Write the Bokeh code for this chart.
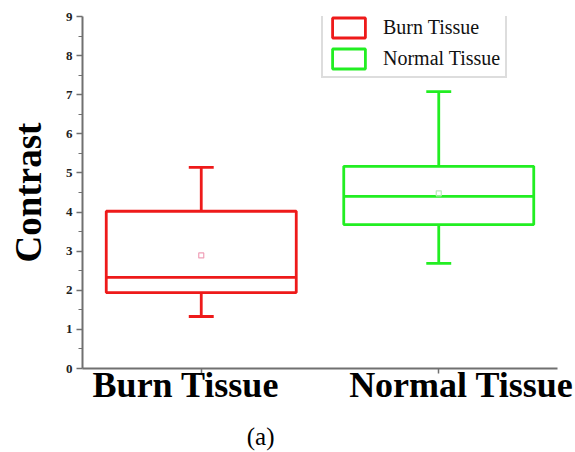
from bokeh.plotting import figure
from bokeh.models import Range1d, FixedTicker, Legend, LegendItem, LinearAxis
from bokeh.embed import file_html
from bokeh.resources import INLINE

# Data
categories = ["Burn Tissue", "Normal Tissue"]
positions = [1, 2]
q1 = [1.94, 3.68]
median = [2.33, 4.40]
q3 = [4.02, 5.17]
whisker_low = [1.33, 2.69]
whisker_high = [5.14, 7.08]
means = [2.89, 4.48]
colors = ["#ee1a1a", "#22ee22"]
mean_colors = ["#f0a0b8", "#b8ecb8"]
y_ticks = [0, 1, 2, 3, 4, 5, 6, 7, 8, 9]
caption = "(a)"

# layout constants (label offsets in x units relative to their tick)
label_shift = [-0.065, 0.095]
caption_pos = 1.25

box_w = 0.8
cap_w = 0.105
serif = "Liberation Serif"

p = figure(width=575, height=452, output_backend="svg", toolbar_location=None,
           x_range=Range1d(0.5, 2.5), y_range=Range1d(0, 9),
           min_border_left=82, min_border_right=18, min_border_top=16, min_border_bottom=84)
p.outline_line_color = None
p.grid.grid_line_color = None
p.background_fill_color = "white"

renderers = []
for i in range(2):
    x = positions[i]
    c = colors[i]
    p.segment(x0=[x, x], y0=[q3[i], q1[i]], x1=[x, x], y1=[whisker_high[i], whisker_low[i]],
              line_color=c, line_width=2.8)
    p.segment(x0=[x - cap_w / 2, x - cap_w / 2], y0=[whisker_high[i], whisker_low[i]],
              x1=[x + cap_w / 2, x + cap_w / 2], y1=[whisker_high[i], whisker_low[i]],
              line_color=c, line_width=2.8)
    r = p.quad(left=[x - box_w / 2], right=[x + box_w / 2], bottom=[q1[i]], top=[q3[i]],
               fill_color="white", fill_alpha=0.0, line_color=c, line_width=2.8)
    renderers.append(r)
    p.segment(x0=[x - box_w / 2], y0=[median[i]], x1=[x + box_w / 2], y1=[median[i]],
              line_color=c, line_width=2.8)
    p.scatter(x=[x], y=[means[i]], marker="square", size=5, fill_color=None,
              line_color=mean_colors[i], line_width=1.2)

# main x axis: line + ticks only
p.xaxis.ticker = FixedTicker(ticks=positions)
p.xaxis.major_label_overrides = {positions[i]: " " for i in range(2)}
p.xaxis.major_label_text_font_size = "1px"
p.xaxis.major_label_standoff = 0
p.xaxis.major_tick_out = 5
p.xaxis.major_tick_in = 0

# category labels axis
label_pos = [positions[i] + label_shift[i] for i in range(2)]
lab_axis = LinearAxis(ticker=FixedTicker(ticks=label_pos),
                      major_label_overrides={label_pos[i]: categories[i] for i in range(2)})
lab_axis.axis_line_color = None
lab_axis.major_tick_line_color = None
lab_axis.minor_tick_line_color = None
lab_axis.major_label_text_font = serif
lab_axis.major_label_text_font_style = "bold"
lab_axis.major_label_text_font_size = "36px"
lab_axis.major_label_text_color = "black"
lab_axis.major_label_standoff = -19
p.add_layout(lab_axis, "below")

p.yaxis.ticker = FixedTicker(ticks=y_ticks, minor_ticks=[v + 0.5 for v in y_ticks[:-1]])
p.yaxis.major_label_text_font = serif
p.yaxis.major_label_text_font_style = "bold"
p.yaxis.major_label_text_font_size = "13px"
p.yaxis.major_label_text_color = "#222222"
p.yaxis.major_label_standoff = 4
p.yaxis.major_tick_out = 6
p.yaxis.major_tick_in = 0
p.yaxis.minor_tick_out = 4
p.yaxis.minor_tick_in = 0
p.yaxis.axis_label = "Contrast"
p.yaxis.axis_label_text_font = serif
p.yaxis.axis_label_text_font_style = "bold"
p.yaxis.axis_label_text_font_size = "37px"
p.yaxis.axis_label_text_color = "black"
p.yaxis.axis_label_standoff = 14

for ax in (p.xaxis[0], p.yaxis[0]):
    ax.axis_line_color = "#707070"
    ax.axis_line_width = 2
    ax.major_tick_line_color = "#707070"
    ax.major_tick_line_width = 1.5
    ax.minor_tick_line_color = "#707070"
p.xaxis[0].minor_tick_line_color = None

# caption as an extra bottom axis carrying one label
cap_axis = LinearAxis(ticker=FixedTicker(ticks=[caption_pos]),
                      major_label_overrides={caption_pos: caption})
cap_axis.axis_line_color = None
cap_axis.major_tick_line_color = None
cap_axis.minor_tick_line_color = None
cap_axis.major_label_text_font = serif
cap_axis.major_label_text_font_size = "25px"
cap_axis.major_label_text_color = "black"
cap_axis.major_label_standoff = 9
p.add_layout(cap_axis, "below")

legend = Legend(items=[LegendItem(label=categories[i], renderers=[renderers[i]]) for i in range(2)],
                location=(239, 290))
legend.label_text_font = serif
legend.label_text_font_size = "20px"
legend.label_text_color = "#111111"
legend.label_height = 22
legend.glyph_width = 41
legend.glyph_height = 25
legend.spacing = 6
legend.padding = 5
legend.margin = 0
legend.label_standoff = 14
legend.border_line_color = "#bbbbbb"
legend.border_line_width = 2
legend.background_fill_alpha = 1.0
p.add_layout(legend)

open("out.html", "w").write(file_html(p, INLINE))
